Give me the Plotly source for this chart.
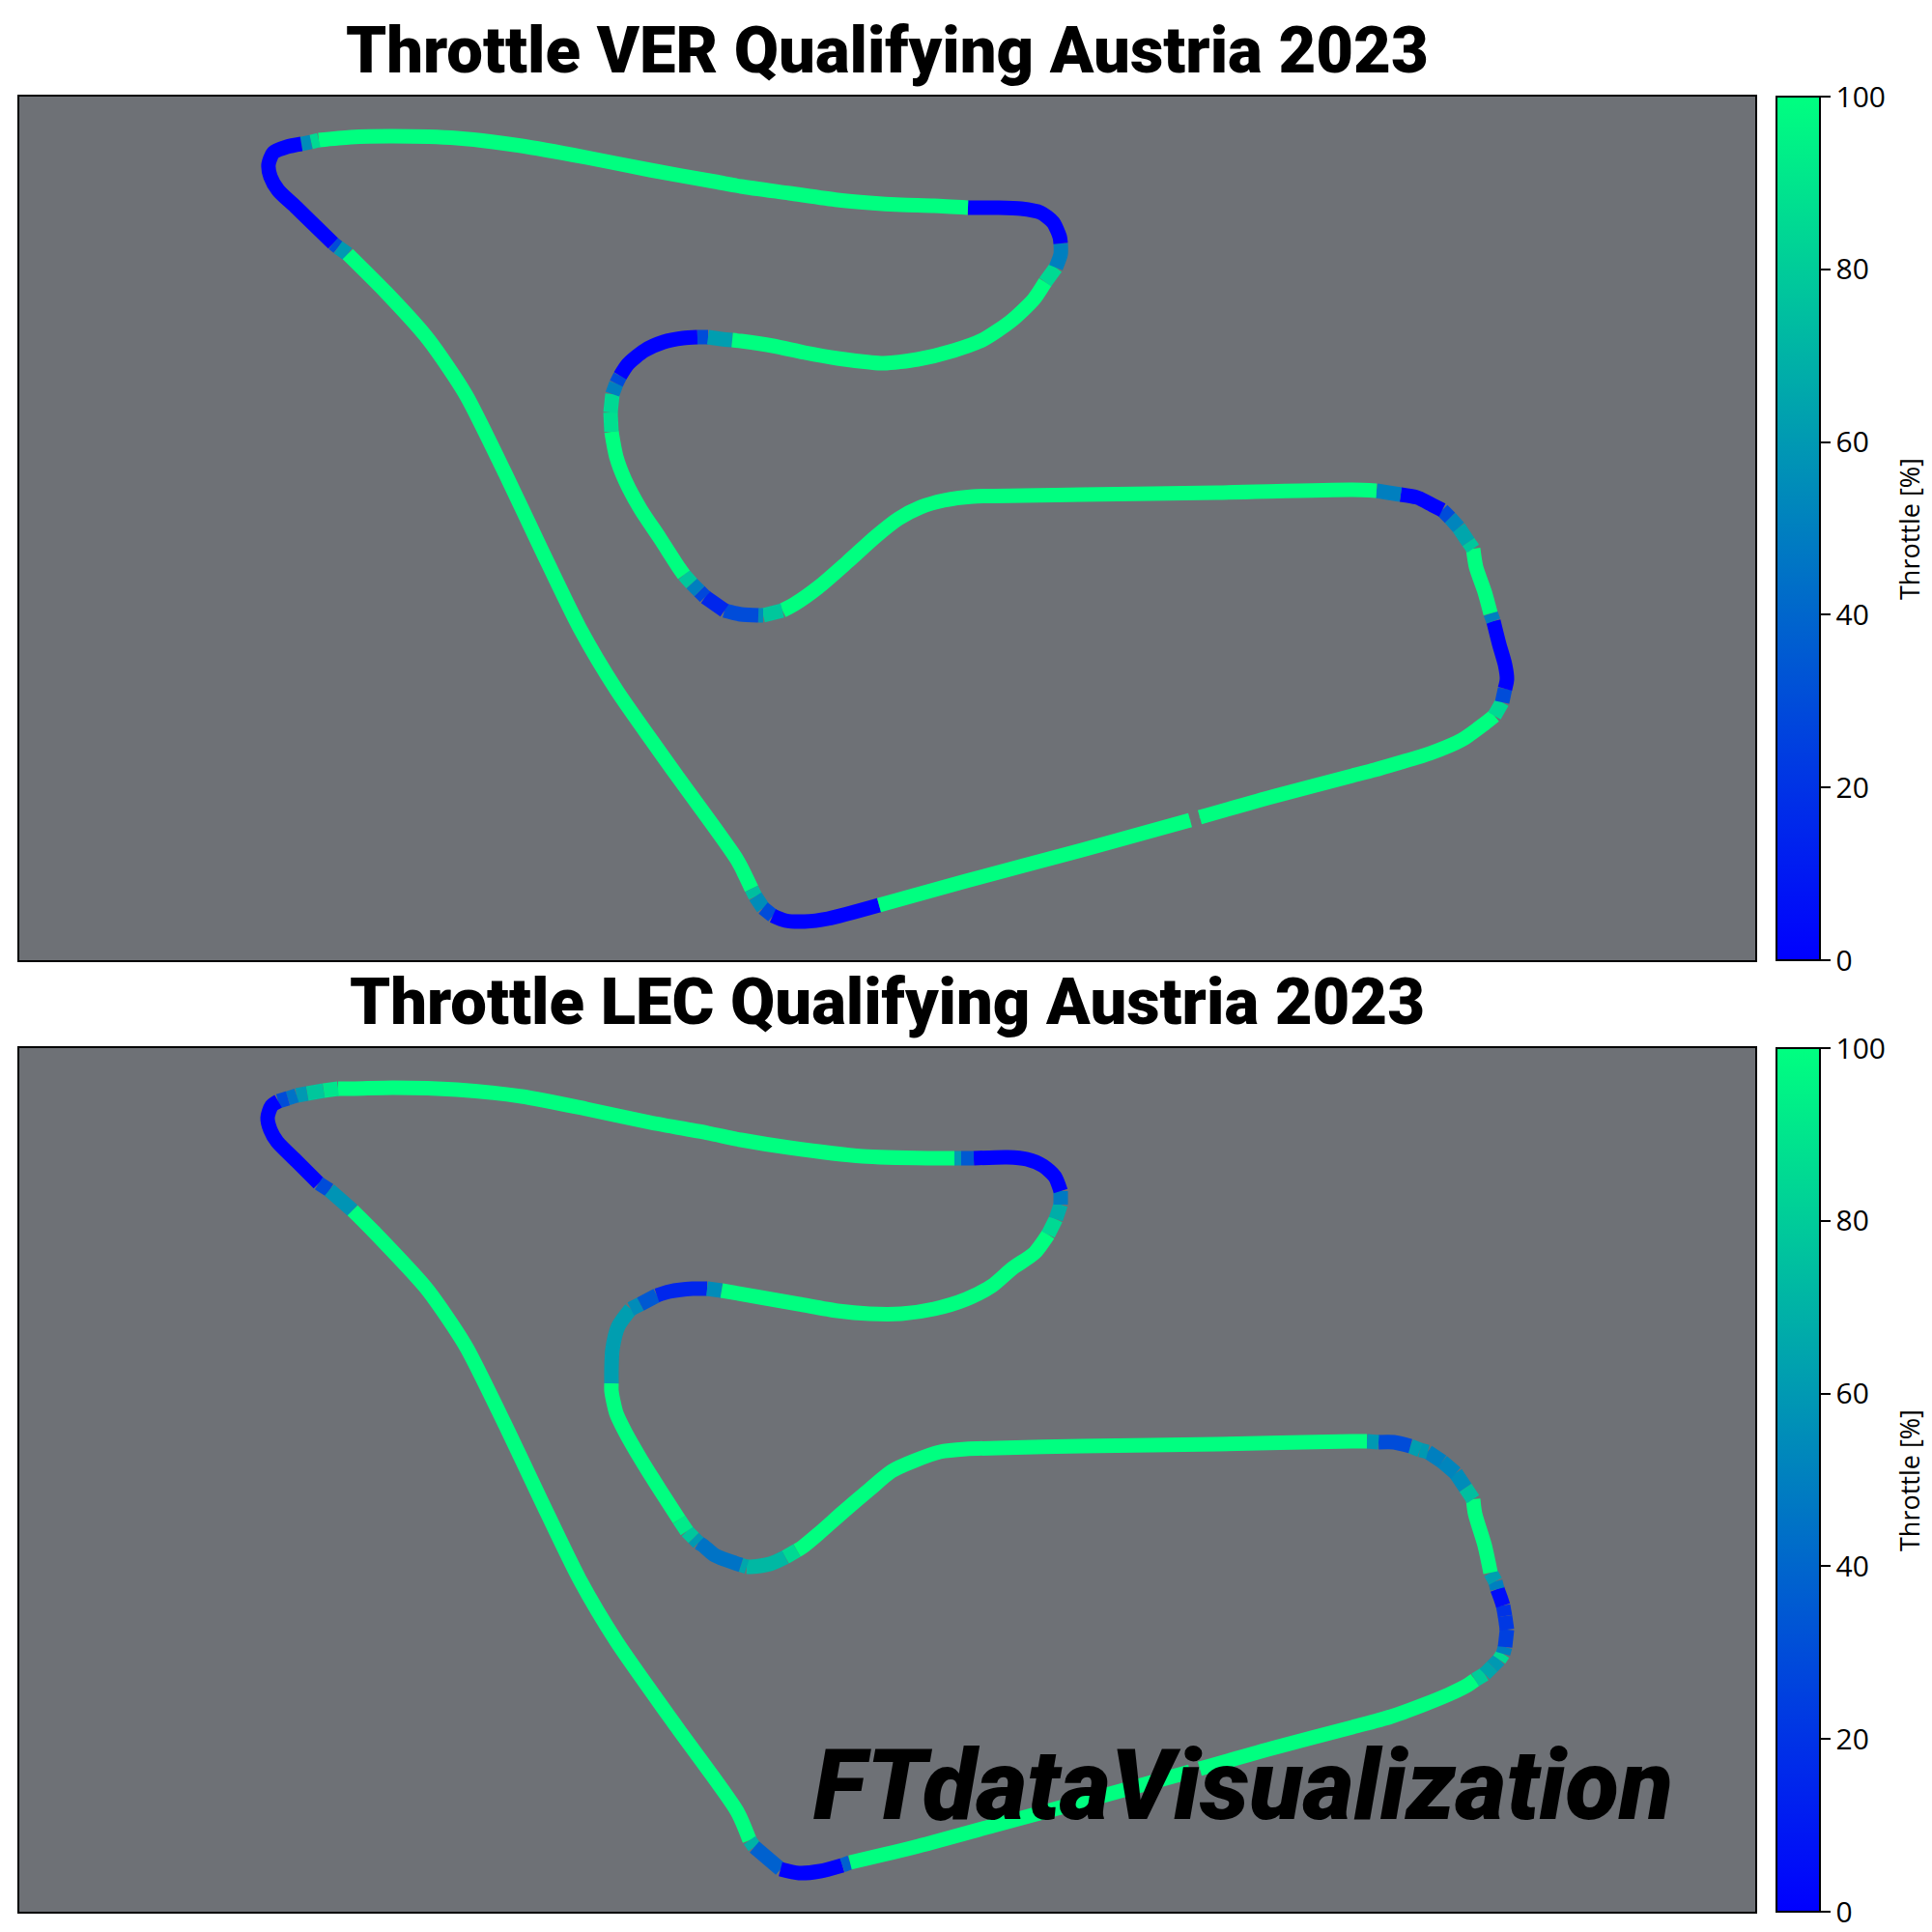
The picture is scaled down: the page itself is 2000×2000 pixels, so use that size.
import plotly.graph_objects as go

titles = ["Throttle VER Qualifying Austria 2023", "Throttle LEC Qualifying Austria 2023"]
watermark = "FTdataVisualization"
colorbar_title = "Throttle [%]"
colorbar_ticks = [0, 20, 40, 60, 80, 100]

ver_x = [1242,1320,1400,1423,1447,1480,1513,1537,1547,1555,
         1558,1560,1558,1552,1546,1543,1537,1528,1525,1520,
         1510,1501,1493,1483,1467,1450,1437,1425,1400,1260,
         1120,1060,1007,977,953,930,907,877,847,823,
         810,790,785,767,750,730,724,716,708,703,
         683,663,647,638,633,632,634,638,642,650,
         667,687,707,722,733,747,758,767,800,833,
         867,900,915,950,987,1017,1047,1070,1082,1093,
         1098,1098,1097,1090,1077,1057,1033,1002,967,933,
         900,867,817,767,740,673,607,540,473,407,
         363,330,322,312,297,283,278,280,288,307,
         345,350,360,400,440,457,483,523,560,600,
         638,700,763,778,782,790,800,813,833,857,
         910,1000,1120,1232]
ver_y = [846,824,803,797,790,780,766,749,741,727,
         713,703,688,667,643,635,613,587,568,561,
         546,536,528,523,515,512,510,508,507,510,
         512,513,514,518,525,537,555,582,608,625,
         632,637,637,636,632,618,612,604,595,588,
         557,527,497,473,447,427,408,397,389,377,
         363,354,350,349,349,351,352,353,358,365,
         371,375,376,372,363,352,332,310,292,277,
         263,252,245,230,220,216,215,215,213,212,
         210,207,200,193,188,176,163,151,143,141,
         142,145,147,149,152,158,170,183,197,215,
         252,256,263,303,347,370,410,490,568,650,
         714,802,890,920,928,940,948,953,954,951,
         937,912,880,849]
ver_throttle = [100,100,100,100,100,100,100,100,85,30,
                0,0,0,0,50,100,100,100,78,65,
                52,30,0,0,0,50,50,100,100,100,
                100,100,100,100,100,100,100,100,100,100,
                78,55,30,30,15,28,50,78,100,100,
                100,100,100,100,88,85,50,30,0,0,
                0,0,0,30,62,62,100,100,100,100,
                100,100,100,100,100,100,100,100,85,50,
                50,0,0,0,0,0,0,100,100,100,
                100,100,100,100,100,100,100,100,100,100,
                100,85,55,0,0,0,0,0,0,0,
                30,60,100,100,100,100,100,100,100,100,
                100,100,100,75,55,30,0,0,0,0,
                100,100,100,100]

lec_x = [1242,1320,1400,1440,1473,1500,1520,1527,1537,1545,
         1552,1556,1558,1560,1558,1556,1553,1550,1548,1543,
         1537,1527,1525,1517,1507,1493,1478,1470,1460,1443,
         1427,1415,1400,1260,1120,1033,1000,973,947,923,
         900,873,847,830,825,813,797,777,773,767,
         740,728,723,718,711,703,683,663,647,638,
         633,633,633,634,640,653,663,680,693,717,
         732,747,787,827,867,900,933,967,1000,1027,
         1048,1071,1085,1093,1098,1098,1092,1080,1063,1043,
         1008,995,988,960,893,817,767,733,673,607,
         540,473,407,367,350,335,318,307,298,288,
         281,277,280,287,307,330,341,365,387,440,457,
         483,523,560,600,638,700,763,776,781,808,
         827,849,872,880,951,1028,1120,1232]
lec_y = [846,824,803,792,780,769,759,754,748,740,
         733,727,720,702,688,677,668,660,652,643,
         615,582,567,555,540,528,518,516,512,508,
         508,507,507,510,512,514,515,518,527,538,
         557,580,603,617,620,627,634,637,637,635,
         625,615,612,607,600,588,557,525,497,478,
         455,447,432,412,388,370,365,356,352,349,
         349,351,358,365,372,375,375,370,360,346,
         328,312,293,277,262,248,233,222,215,213,
         214,214,214,214,212,203,195,188,177,163,
         150,143,141,142,142,144,147,149,152,155,
         160,172,185,197,217,240,247,268,290,347,370,
         410,490,568,650,714,802,890,920,927,950,
         954,952,946,943,926,905,880,849]
lec_throttle = [100,100,100,100,100,100,100,80,65,60,
                85,50,25,22,20,5,5,50,62,100,
                100,100,75,55,52,50,60,62,30,30,
                60,100,100,100,100,100,100,100,100,100,
                100,100,100,100,85,72,72,72,65,45,
                45,45,60,78,92,100,100,100,100,100,
                100,62,62,62,62,55,35,15,15,15,
                55,100,100,100,100,100,100,100,100,100,
                100,100,85,68,48,0,0,0,0,0,
                35,60,100,100,100,100,100,100,100,100,
                100,100,100,100,90,78,60,45,30,0,
                0,0,0,0,0,30,58,100,100,100,100,
                100,100,100,100,100,100,100,70,38,0,
                0,0,38,100,100,100,100,100]


def colour(v):
    return f"rgb(0,{round(v * 2.55)},{round(255 - v * 1.275)})"


winter = [[0, "rgb(0,0,255)"], [1, "rgb(0,255,128)"]]
panels = [(ver_x, ver_y, ver_throttle), (lec_x, lec_y, lec_throttle)]
domains = [(1 - 994 / 2000, 1 - 100 / 2000), (1 - 1979 / 2000, 1 - 1085 / 2000)]

fig = go.Figure()
for p, (xs, ys, vs) in enumerate(panels):
    ax = "" if p == 0 else "2"
    dom = domains[p]
    fig.add_trace(go.Scatter(
        x=xs, y=ys, mode="markers", xaxis="x" + ax, yaxis="y" + ax, hoverinfo="skip", showlegend=False,
        marker=dict(size=1, color=vs, cmin=0, cmax=100, colorscale=winter, showscale=True,
                    colorbar=dict(x=1839 / 2000, xanchor="left", xpad=0, ypad=0, thickness=45, thicknessmode="pixels",
                                  y=dom[0], yanchor="bottom", len=dom[1] - dom[0], lenmode="fraction",
                                  outlinecolor="black", outlinewidth=2, ticks="outside", ticklen=10, tickwidth=2,
                                  tickcolor="black", tickvals=colorbar_ticks,
                                  tickfont=dict(family="Open Sans", size=30, color="black")))))
    i = 0
    n = len(xs)
    while i < n - 1:
        j = i + 1
        while j < n - 1 and vs[j] == vs[i]:
            j += 1
        fig.add_trace(go.Scatter(
            x=xs[i:j + 1], y=ys[i:j + 1], mode="lines", xaxis="x" + ax, yaxis="y" + ax, hoverinfo="skip", showlegend=False,
            line=dict(color=colour(vs[i]), width=15, shape="spline", smoothing=0.7)))
        i = j

axis_common = dict(showgrid=False, zeroline=False, showticklabels=False, ticks="", showline=True, linecolor="black", linewidth=2, mirror=True)


def title_note(text, baseline):
    return dict(text=text, xref="paper", yref="paper", x=918 / 2000, y=1 - baseline / 2000, xanchor="center", yanchor="bottom",
                yshift=-16, showarrow=False, font=dict(family="Roboto", size=67, weight=900, color="black"))


def cbar_note(centre):
    return dict(text=colorbar_title, xref="paper", yref="paper", x=1976 / 2000, y=1 - centre / 2000, xanchor="center", yanchor="middle",
                textangle=-90, showarrow=False, font=dict(family="Open Sans", size=27, color="black"))


fig.update_layout(
    width=2000, height=2000, autosize=False, margin=dict(l=0, r=0, t=0, b=0),
    paper_bgcolor="white", plot_bgcolor="#6E7176", showlegend=False,
    xaxis=dict(domain=[20 / 2000, 1817 / 2000], range=[20, 1817], **axis_common),
    yaxis=dict(domain=domains[0], range=[994, 100], **axis_common),
    xaxis2=dict(domain=[20 / 2000, 1817 / 2000], range=[20, 1817], anchor="y2", **axis_common),
    yaxis2=dict(domain=domains[1], range=[994, 100], anchor="x2", **axis_common),
    annotations=[
        title_note(titles[0], 77),
        title_note(titles[1], 1062),
        cbar_note(548),
        cbar_note(1533),
        dict(text=watermark, xref="paper", yref="paper", x=1287 / 2000, y=1 - 1885 / 2000, xanchor="center", yanchor="bottom", yshift=-25, showarrow=False,
             font=dict(family="Roboto", size=102, weight=900, style="italic", color="black")),
    ],
)
fig.write_html("out.html", config={"displayModeBar": False}, post_script="document.body.style.margin='0';")
